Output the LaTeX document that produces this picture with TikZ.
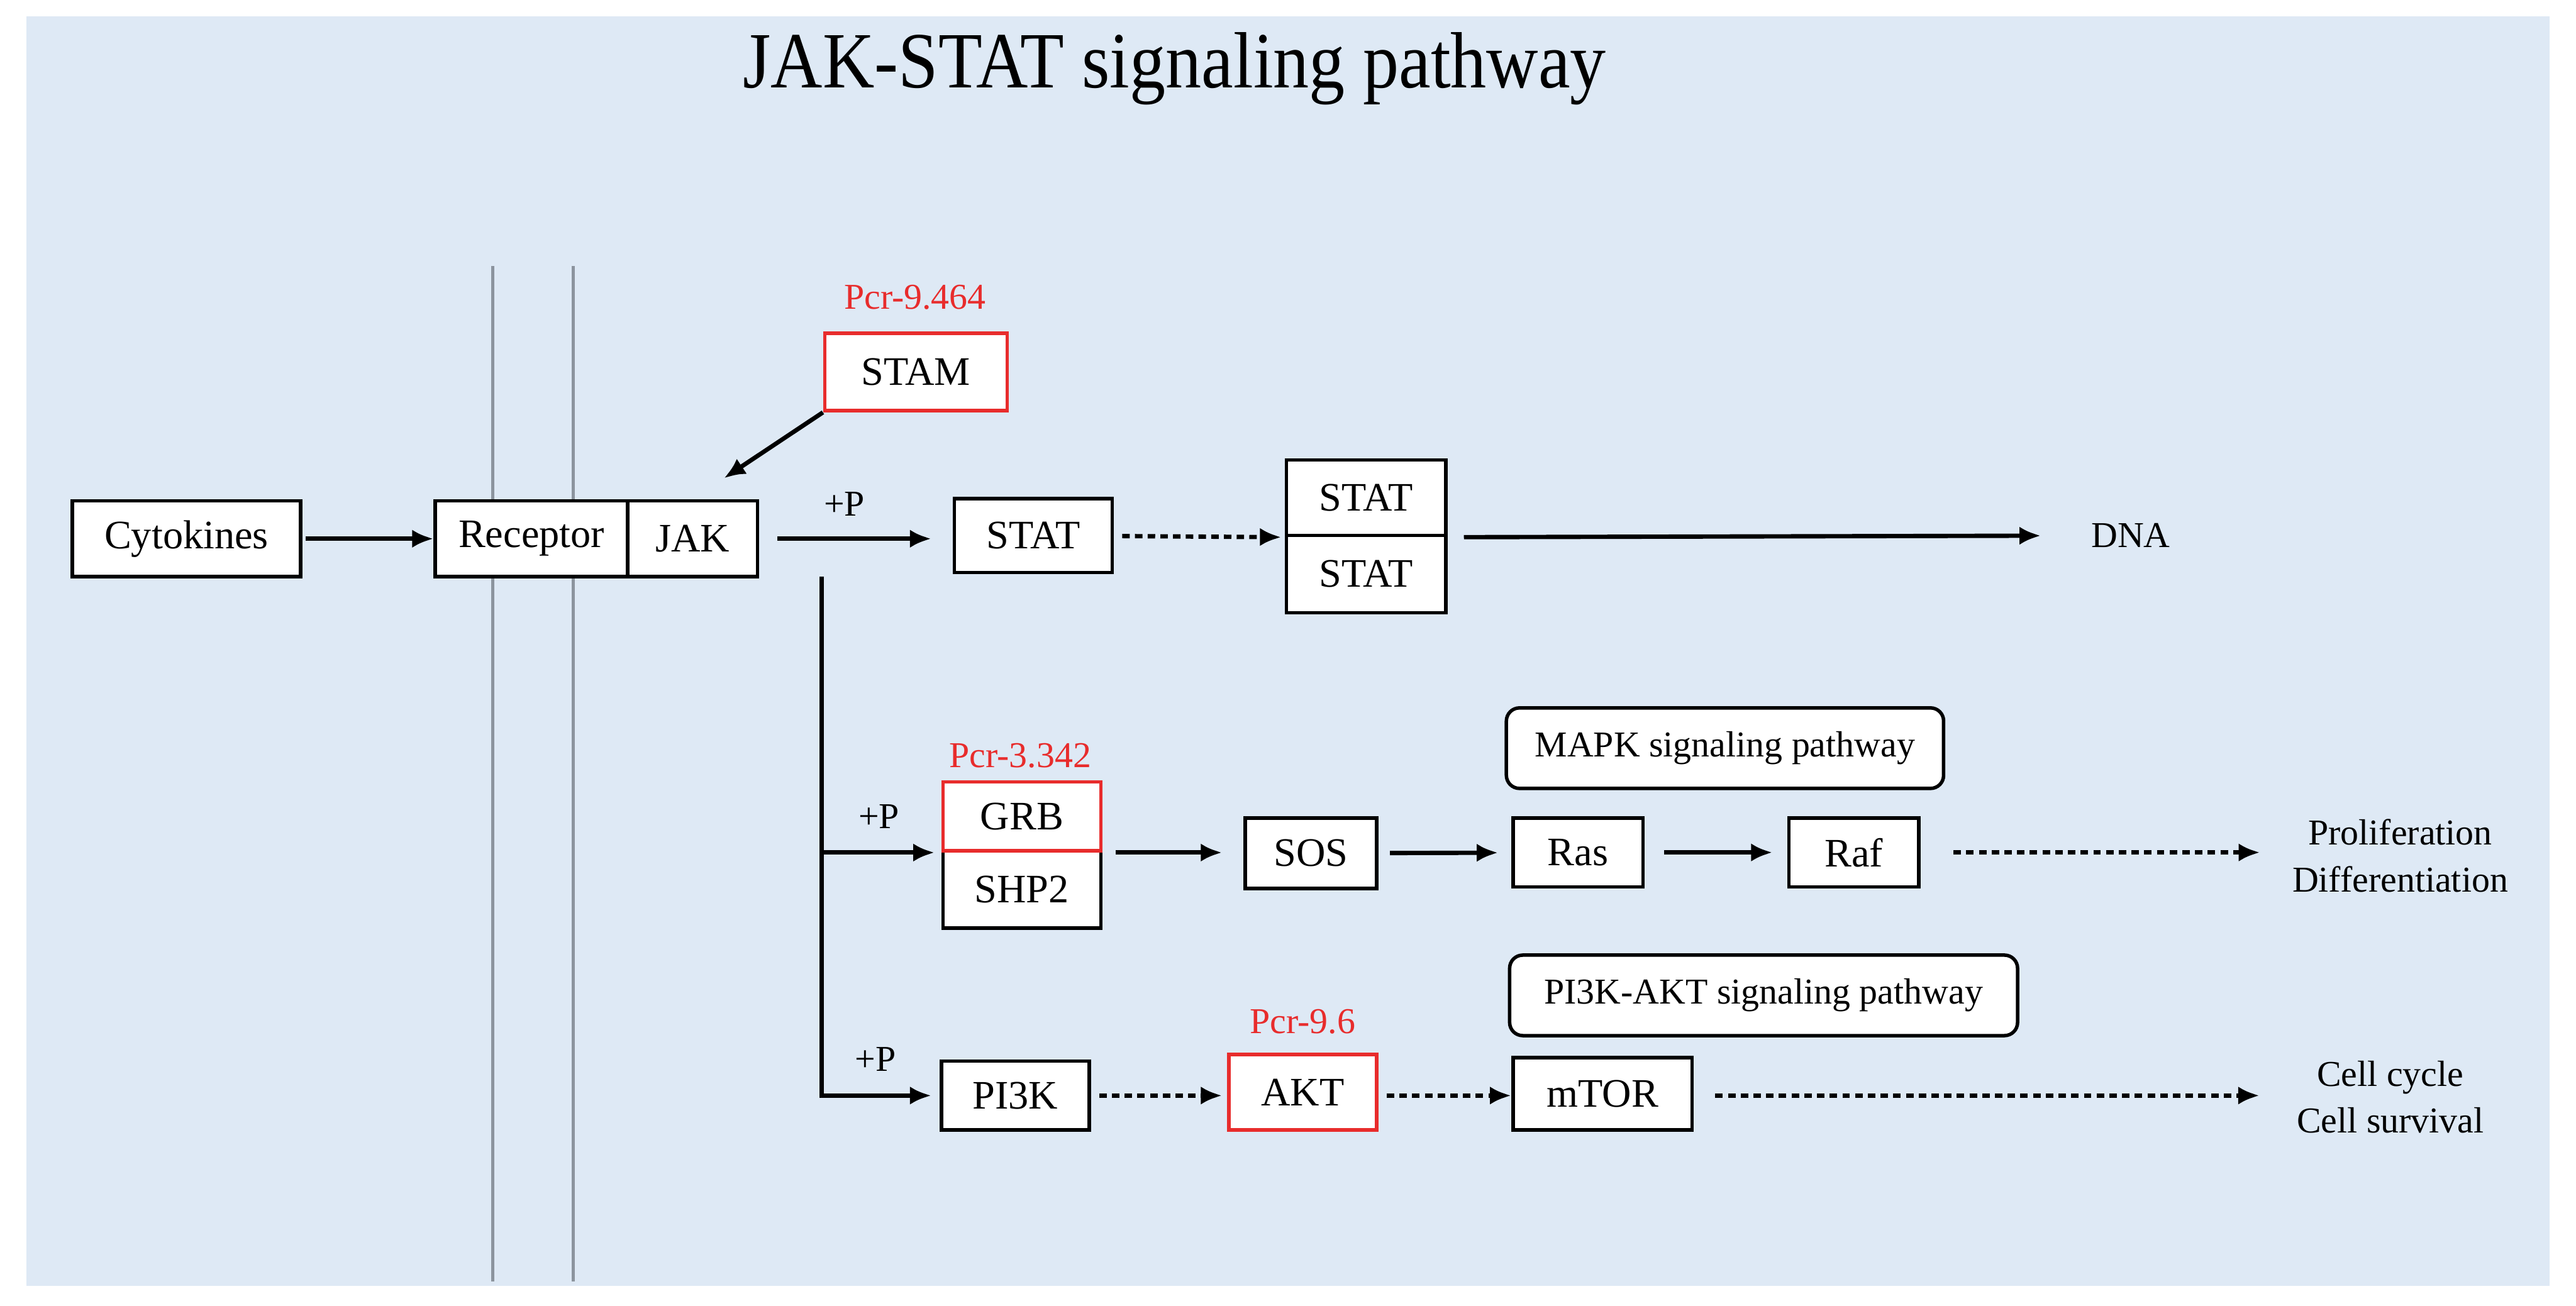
\documentclass[tikz,border=0pt]{standalone}
\usepackage{fontspec}
\setmainfont{Liberation Serif}
\newfontfamily\titlefont[FakeStretch=0.9]{Liberation Serif}
\usetikzlibrary{positioning}
\usetikzlibrary{calc}
\usetikzlibrary{arrows.meta}
\definecolor{bgblue}{RGB}{222,233,245}
\definecolor{hitred}{RGB}{232,44,44}
\definecolor{membrane}{RGB}{140,148,158}

\begin{document}
\begin{tikzpicture}[x=0.01cm, y=-0.01cm, >={Latex[length=1.3mm,width=1.1mm]},
    gene/.style={draw, fill=white, line width=0.6pt, inner sep=0pt, font=\fontsize{7}{8}\selectfont},
    hit/.style={gene, draw=hitred},
    pathbox/.style={draw, fill=white, rounded corners=0.08cm, line width=0.6pt, inner sep=0pt, minimum height=0.49cm, font=\fontsize{6.3}{7}\selectfont},
    pcr/.style={text=hitred, inner sep=0pt, font=\fontsize{6.3}{7}\selectfont},
    note/.style={inner sep=0pt, align=center, font=\fontsize{6.3}{8.1}\selectfont},
    link/.style={->, line width=0.75pt},
    weak/.style={link, dash pattern=on 1.3pt off 0.9pt}]
    \useasboundingbox (0,0) rectangle (1568,795);
    \fill[bgblue] (16,10) rectangle (1552,783);

    % Cell membrane
    \foreach \x in {300,349} {
        \draw[membrane, line width=0.6pt] (\x,162) -- (\x,780);
    }

    \node[font=\titlefont\fontsize{13.8}{15}\selectfont] (title) at (715,42) {JAK-STAT signaling pathway};

    % Receptor level
    \node[gene, minimum width=1.39cm, minimum height=0.46cm] (cyto) at (113.5,328) {Cytokines};
    \node[gene, minimum width=1.17cm, minimum height=0.46cm] (receptor) at (323.5,328) {Receptor};
    \node[gene, minimum width=0.79cm, minimum height=0.46cm] (jak) at (421.5,328) {JAK};
    \node[hit, minimum width=1.11cm, minimum height=0.47cm] (stam) at (557.5,226.5) {STAM};
    \node[pcr] (stamval) at (557,181) {Pcr-9.464};
    \node[gene, minimum width=0.96cm, minimum height=0.45cm] (stat) at (629,326) {STAT};
    \node[gene, minimum width=0.97cm, minimum height=0.46cm] (statup) at (831.5,303) {STAT};
    \node[gene, minimum width=0.97cm, minimum height=0.47cm] (statlow) at (831.5,349.5) {STAT};
    \node[note] (dna) at (1297,326) {DNA};

    % MAPK branch
    \coordinate (fork) at (500,351);
    \node[gene, minimum width=0.96cm, minimum height=0.47cm] (shp) at (622,541.5) {SHP2};
    \node[hit, minimum width=0.96cm, minimum height=0.42cm] (grb) at (622,497) {GRB};
    \node[pcr] (grbval) at (621,460) {Pcr-3.342};
    \node[gene, minimum width=0.80cm, minimum height=0.43cm] (sos) at (798,519.5) {SOS};
    \node[gene, minimum width=0.79cm, minimum height=0.42cm] (ras) at (960.5,519) {Ras};
    \node[gene, minimum width=0.79cm, minimum height=0.42cm] (raf) at (1128.5,519) {Raf};
    \node[pathbox, minimum width=2.66cm] (mapk) at (1050,455.5) {MAPK signaling pathway};
    \node[note] (prolif) at (1461,521) {Proliferation\\Differentiation};

    % PI3K branch
    \node[gene, minimum width=0.90cm, minimum height=0.42cm] (pi3k) at (618,667) {PI3K};
    \node[hit, minimum width=0.90cm, minimum height=0.46cm] (akt) at (793,665) {AKT};
    \node[pcr] (aktval) at (793,622) {Pcr-9.6};
    \node[gene, minimum width=1.09cm, minimum height=0.44cm] (mtor) at (975.5,666) {mTOR};
    \node[pathbox, minimum width=3.09cm] (pi3kakt) at (1073.5,606) {PI3K-AKT signaling pathway};
    \node[note] (cell) at (1455,668) {Cell cycle\\Cell survival};

    \foreach \n/\x/\y in {p1/514/307, p2/535/497, p3/533/645} {
        \node[note] (\n) at (\x,\y) {+P};
    }

    \draw[link, shorten <=0.02cm] (cyto) -- (receptor);
    \draw[link, shorten >=0.23cm] (stam.south west) -- (jak.north);
    \draw[link, shorten <=0.11cm, shorten >=0.13cm] (jak) -- (jak -| stat.west);
    \draw[weak, shorten <=0.05cm, shorten >=0.02cm] (stat) -- (statup.south west);
    \draw[link, shorten <=0.1cm, shorten >=0.3cm] (statup.south east) -- (dna);

    \draw[link, shorten >=0.05cm] (fork) |- (pi3k);
    \draw[link, shorten >=0.04cm] (fork |- grb.south) -- (grb.south west);
    \draw[link, shorten <=0.08cm, shorten >=0.13cm] (grb.south east) -- (grb.south east -| sos.west);
    \draw[link, shorten <=0.07cm, shorten >=0.08cm] (sos) -- (ras);
    \draw[link, shorten <=0.12cm, shorten >=0.09cm] (ras) -- (raf);
    \draw[weak, shorten <=0.2cm, shorten >=0.19cm] (raf) -- (raf -| prolif.west);

    \draw[weak, shorten <=0.05cm, shorten >=0.03cm] (pi3k) -- (pi3k -| akt.west);
    \draw[weak, shorten <=0.05cm] (pi3k -| akt.east) -- (pi3k -| mtor.west);
    \draw[weak, shorten <=0.13cm, shorten >=0.22cm] (pi3k -| mtor.east) -- (pi3k -| cell.west);
\end{tikzpicture}
\end{document}
